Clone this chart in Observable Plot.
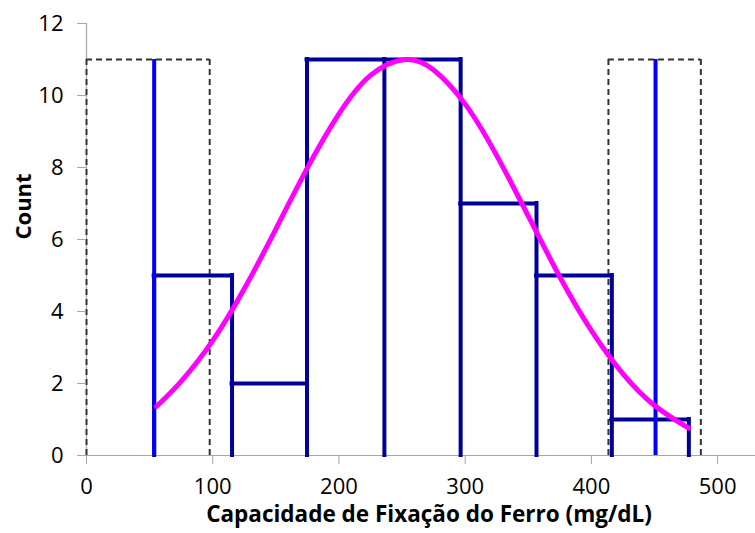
<!DOCTYPE html>
<html>
<head>
<meta charset="utf-8">
<script src="https://cdn.jsdelivr.net/npm/d3@7"></script>
<script src="https://cdn.jsdelivr.net/npm/@observablehq/plot@0.6"></script>
<style>
  html, body { margin: 0; padding: 0; background: #fff; }
  #chart svg { display: block; }
</style>
</head>
<body>
<div id="chart"></div>
<script>
// Histogram bin edges and counts
const binEdges = [53.6, 115.3, 174.7, 236.0, 296.4, 356.5, 416.2, 477.2];
const counts = [5, 2, 11, 11, 7, 5, 1];

// Dashed boxes (start, end, height)
const boxStart = [0, 413.5];
const boxEnd = [97.6, 486.7];
const boxHeight = [11, 11];

// Blue marker lines
const markerX = [53.6, 450.8];
const markerTop = [11, 11];

// Fitted curve points
const curveX = [55.4, 75, 100, 125, 150, 175, 200, 225, 252.6, 275, 300, 325, 350, 375, 400, 425, 450, 477];
const curveY = [1.36, 2.06, 3.19, 4.63, 6.29, 7.99, 9.49, 10.56, 11.0, 10.71, 9.76, 8.33, 6.65, 4.96, 3.47, 2.27, 1.39, 0.76];

// Axis ticks
const xTicks = [0, 100, 200, 300, 400, 500];
const yTicks = [0, 2, 4, 6, 8, 10, 12];
const xTitle = "Capacidade de Fixação do Ferro (mg/dL)";
const yTitle = "Count";

// Bar outlines without bottoms (tops + vertical edges)
const tops = counts.map((c, i) => ({x1: binEdges[i], x2: binEdges[i + 1], y: c}));
const edges = binEdges.map((x, i) => ({x, y: Math.max(counts[i - 1] || 0, counts[i] || 0)}));
// Dashed boxes without bottoms
const boxTops = boxStart.map((s, i) => ({x1: s, x2: boxEnd[i], y: boxHeight[i]}));
const boxSides = boxStart.flatMap((s, i) => [{x: s, y: boxHeight[i]}, {x: boxEnd[i], y: boxHeight[i]}]);
const markers = markerX.map((x, i) => ({x, y: markerTop[i]}));
const curve = curveX.map((x, i) => ({x, y: curveY[i]}));

const navy = "#000099";
const dash = {stroke: "#333", strokeWidth: 2, strokeDasharray: "6,4"};

const chart = Plot.plot({
  width: 755,
  height: 533,
  marginLeft: 86,
  marginRight: 0,
  marginTop: 23,
  marginBottom: 78,
  style: {fontFamily: "'Open Sans', sans-serif", background: "#fff", color: "#000"},
  x: {domain: [0, 530]},
  y: {domain: [0, 12]},
  marks: [
    Plot.ruleY([0], {stroke: "#a6a6a6", strokeWidth: 1.2}),
    Plot.ruleX([0], {stroke: "#a6a6a6", strokeWidth: 1.2}),
    Plot.ruleY(boxTops, {x1: "x1", x2: "x2", y: "y", ...dash}),
    Plot.ruleX(boxSides, {x: "x", y1: 0, y2: "y", ...dash}),
    Plot.axisX({ticks: xTicks, tickSize: 9, tickPadding: 14, stroke: "#a6a6a6", fontSize: 22, label: null, tickFormat: d => d}),
    Plot.axisY({ticks: yTicks, tickSize: 9, tickPadding: 14, stroke: "#a6a6a6", fontSize: 22, label: null, tickFormat: d => d}),
    Plot.ruleX(edges, {x: "x", y1: 0, y2: "y", stroke: navy, strokeWidth: 4, strokeLinecap: "square"}),
    Plot.ruleY(tops, {x1: "x1", x2: "x2", y: "y", stroke: navy, strokeWidth: 4, strokeLinecap: "square"}),
    Plot.ruleX(markers, {x: "x", y1: 0, y2: "y", stroke: "#0000ff", strokeWidth: 4}),
    Plot.line(curve, {x: "x", y: "y", stroke: "#ff00ff", strokeWidth: 5, curve: "natural", strokeLinecap: "round"}),
    Plot.text([xTitle], {frameAnchor: "bottom", dy: 66, dx: 8, fontSize: 22.5, fontWeight: "bold", fill: "#000"}),
    Plot.text([yTitle], {frameAnchor: "left", rotate: -90, dx: -63, fontSize: 22, fontWeight: "bold", fill: "#000"})
  ]
});
document.getElementById("chart").appendChild(chart);
</script>
</body>
</html>
